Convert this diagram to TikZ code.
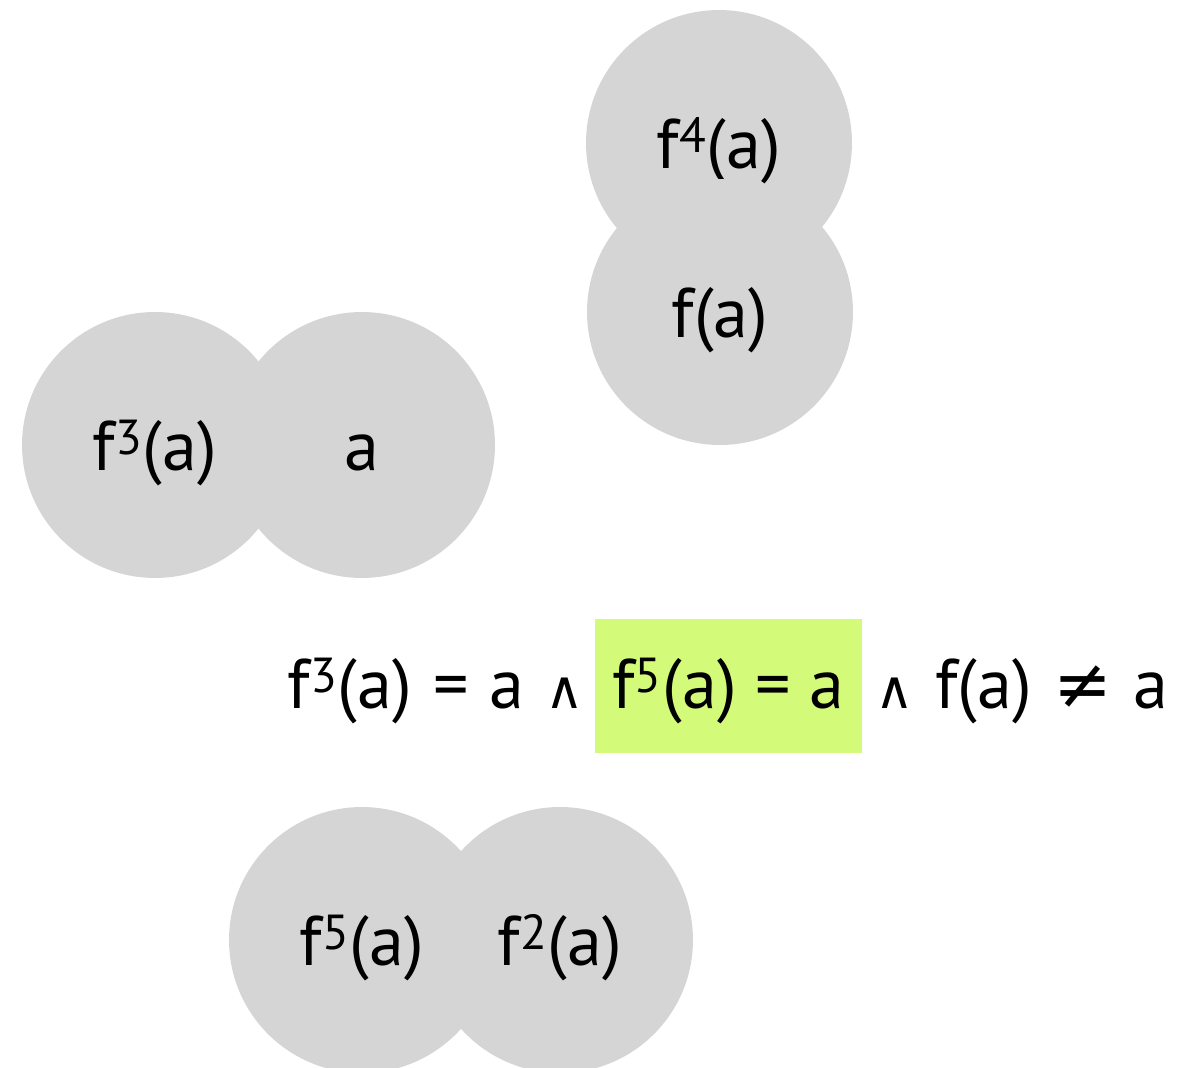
\documentclass[tikz,border=0pt]{standalone}
\usepackage{fontspec}
\setmainfont{PT Sans}
\newfontfamily\symfont{DejaVu Sans}
\usepackage{xcolor}
\usetikzlibrary{positioning}

\definecolor{blobgray}{HTML}{D5D5D5}
\definecolor{hlgreen}{HTML}{D4FA7A}

\newcommand{\andsym}{{\symfont\fontsize{30}{36}\selectfont ∧}}
\newcommand{\nesym}{{\symfont ≠}}

\begin{document}
\begin{tikzpicture}[x=0.02cm, y=-0.02cm,
    blob/.style={circle, fill=blobgray, minimum size=5.32cm, inner sep=0pt,
                 text height=37pt, text depth=8pt,
                 font=\fontsize{40}{44}\selectfont},
    eqn/.style={inner sep=0pt, text height=34pt, text depth=8pt,
                font=\fontsize{40}{44}\selectfont},
    hl/.style={eqn, fill=hlgreen, minimum width=5.34cm, minimum height=2.68cm}
  ]
  \useasboundingbox (0,0) rectangle (1201,1068);

  % the orbit of a, drawn as touching blobs
  \node[blob] (f4) at (719,143) {f\textsuperscript{4}(a)};
  \node[blob] (f1) at (720,312) {f(a)};
  \node[blob] (f3) at (155,445) {f\textsuperscript{3}(a)};
  \node[blob] (a0) at (362,445) {a};
  \node[blob] (f5) at (362,940) {f\textsuperscript{5}(a)};
  \node[blob] (f2) at (560,940) {f\textsuperscript{2}(a)};

  % the condition, middle part highlighted
  \node[hl] (mid) at (728.5,686) {f\textsuperscript{5}(a) = a};
  \node[eqn, left=0.2cm of mid.west] (lhs)
    {f\textsuperscript{3}(a)\hspace{0.3em}=\hspace{0.3em}a\hspace{0.3em}\andsym};
  \node[eqn, right=0.26cm of mid.east] (rhs)
    {\andsym\hspace{0.3em}f(a)\hspace{0.3em}\nesym\hspace{0.3em}a};
\end{tikzpicture}
\end{document}
